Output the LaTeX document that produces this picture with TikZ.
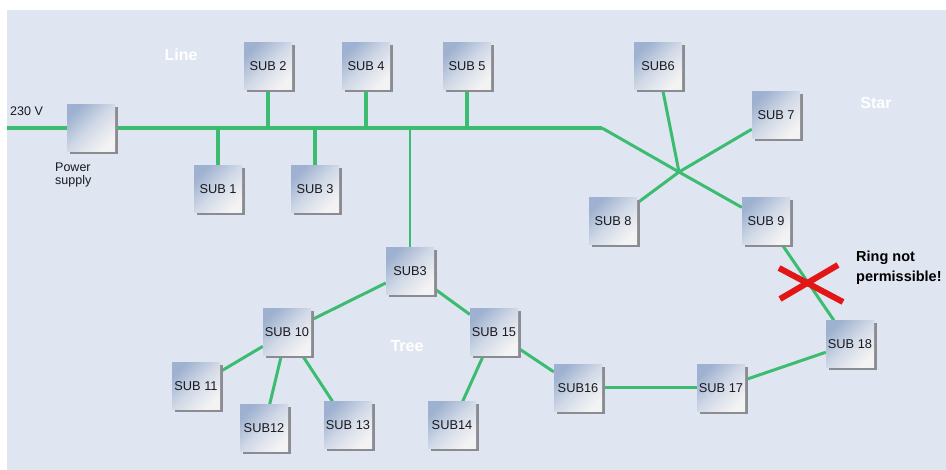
\documentclass[tikz,border=0pt]{standalone}
\usepackage{fontspec}
\setmainfont{Liberation Sans}
\usetikzlibrary{shadows}
\definecolor{bgc}{RGB}{223,229,241}
\definecolor{wire}{RGB}{60,188,112}
\definecolor{shgray}{RGB}{138,140,146}
\definecolor{boxblue}{RGB}{158,177,208}
\definecolor{boxmid}{RGB}{210,218,231}
\definecolor{boxwhite}{RGB}{243,243,244}
\definecolor{txt}{RGB}{25,25,30}
\definecolor{xred}{RGB}{226,22,22}
\pgfdeclarelayer{bottom}
\pgfdeclarelayer{background}
\pgfsetlayers{bottom,background,main}
\begin{document}
\begin{tikzpicture}[x=1pt,y=-1pt,
  sub/.style={minimum width=48pt, minimum height=47pt, inner sep=0pt,
    top color=boxblue, bottom color=boxwhite, middle color=boxmid, shading angle=45,
    drop shadow={shadow xshift=3pt, shadow yshift=-3pt, fill=shgray, opacity=1},
    font=\fontsize{12.8}{13}\selectfont, text=txt},
  bus/.style={draw=wire, line width=3.8pt},
  link/.style={draw=wire, line width=3pt, line join=round},
  thin link/.style={draw=wire, line width=2.4pt},
  zone/.style={text=white, font=\fontsize{16}{16}\selectfont\bfseries},
  plain/.style={text=txt, font=\fontsize{12.5}{13}\selectfont, inner sep=0pt}]
\useasboundingbox (0,0) rectangle (946,470);
\begin{pgfonlayer}{bottom}
\fill[bgc] (7,10) rectangle (946,470);
\end{pgfonlayer}

% nodes
\node[sub] (ps) at (91,128) {};
\node[sub] (sub1) at (218,189) {SUB 1};
\node[sub] (sub2) at (268,66) {SUB 2};
\node[sub] (sub3a) at (315,189) {SUB 3};
\node[sub] (sub4) at (366,66) {SUB 4};
\node[sub] (sub5) at (467,66) {SUB 5};
\node[sub] (sub6) at (658,66) {SUB6};
\node[sub] (sub7) at (776,115) {SUB 7};
\node[sub] (sub8) at (613,221) {SUB 8};
\node[sub] (sub9) at (766,221) {SUB 9};
\node[sub] (sub3t) at (410,271) {SUB3};
\node[sub] (sub10) at (287,332) {SUB 10};
\node[sub] (sub11) at (196,386) {SUB 11};
\node[sub] (sub12) at (264,428) {SUB12};
\node[sub] (sub13) at (348,425) {SUB 13};
\node[sub] (sub14) at (452,425) {SUB14};
\node[sub] (sub15) at (494,332) {SUB 15};
\node[sub] (sub16) at (578,388) {SUB16};
\node[sub] (sub17) at (721,388) {SUB 17};
\node[sub] (sub18) at (850,344) {SUB 18};

\coordinate (feed) at (7,128);
\coordinate (bend) at (602,128);
\coordinate (star) at (679,172);
\coordinate (xmark) at (810,284);

% connectors
\begin{pgfonlayer}{background}
\draw[bus] (feed) -- (ps);
\draw[bus] (ps) -- (bend);
\draw[bus] (sub1) -- (sub1 |- bend);
\draw[bus] (sub2) -- (sub2 |- bend);
\draw[bus] (sub3a) -- (sub3a |- bend);
\draw[bus] (sub4) -- (sub4 |- bend);
\draw[bus] (sub5) -- (sub5 |- bend);
\draw[thin link] (sub3t) -- (sub3t |- bend);
\draw[link] (bend) -- (star) -- (sub9);
\draw[link] (sub6) -- (star);
\draw[link] (sub7) -- (star);
\draw[link] (sub8) -- (star);
\draw[link] (sub9) -- (sub18);
\draw[link] (sub3t) -- (sub10);
\draw[link] (sub3t) -- (sub15);
\draw[link] (sub10) -- (sub11);
\draw[link] (sub10) -- (sub12);
\draw[link] (sub10) -- (sub13);
\draw[link] (sub15) -- (sub14);
\draw[link] (sub15) -- (sub16);
\draw[link] (sub16) -- (sub17);
\draw[link] (sub17) -- (sub18);
\end{pgfonlayer}

% red cross
\draw[xred, line width=6pt] ([shift={(-31,-16)}]xmark) -- ([shift={(33,18)}]xmark);
\draw[xred, line width=6pt] ([shift={(28,-19)}]xmark) -- ([shift={(-30,15)}]xmark);

% texts
\node[plain, anchor=west] (v230) at (10,111) {230 V};
\node[plain, anchor=north west, align=left] (pstext) at (55,163) {Power\\supply};
\node[zone] (lline) at (181,55) {Line};
\node[zone] (lstar) at (876,103) {Star};
\node[zone] (ltree) at (407,346) {Tree};
\node[anchor=west, align=left, inner sep=0pt, text=black,
  font=\fontsize{14.5}{20}\selectfont\bfseries] (ring) at (856,268) {Ring not\\permissible!};
\end{tikzpicture}
\end{document}
